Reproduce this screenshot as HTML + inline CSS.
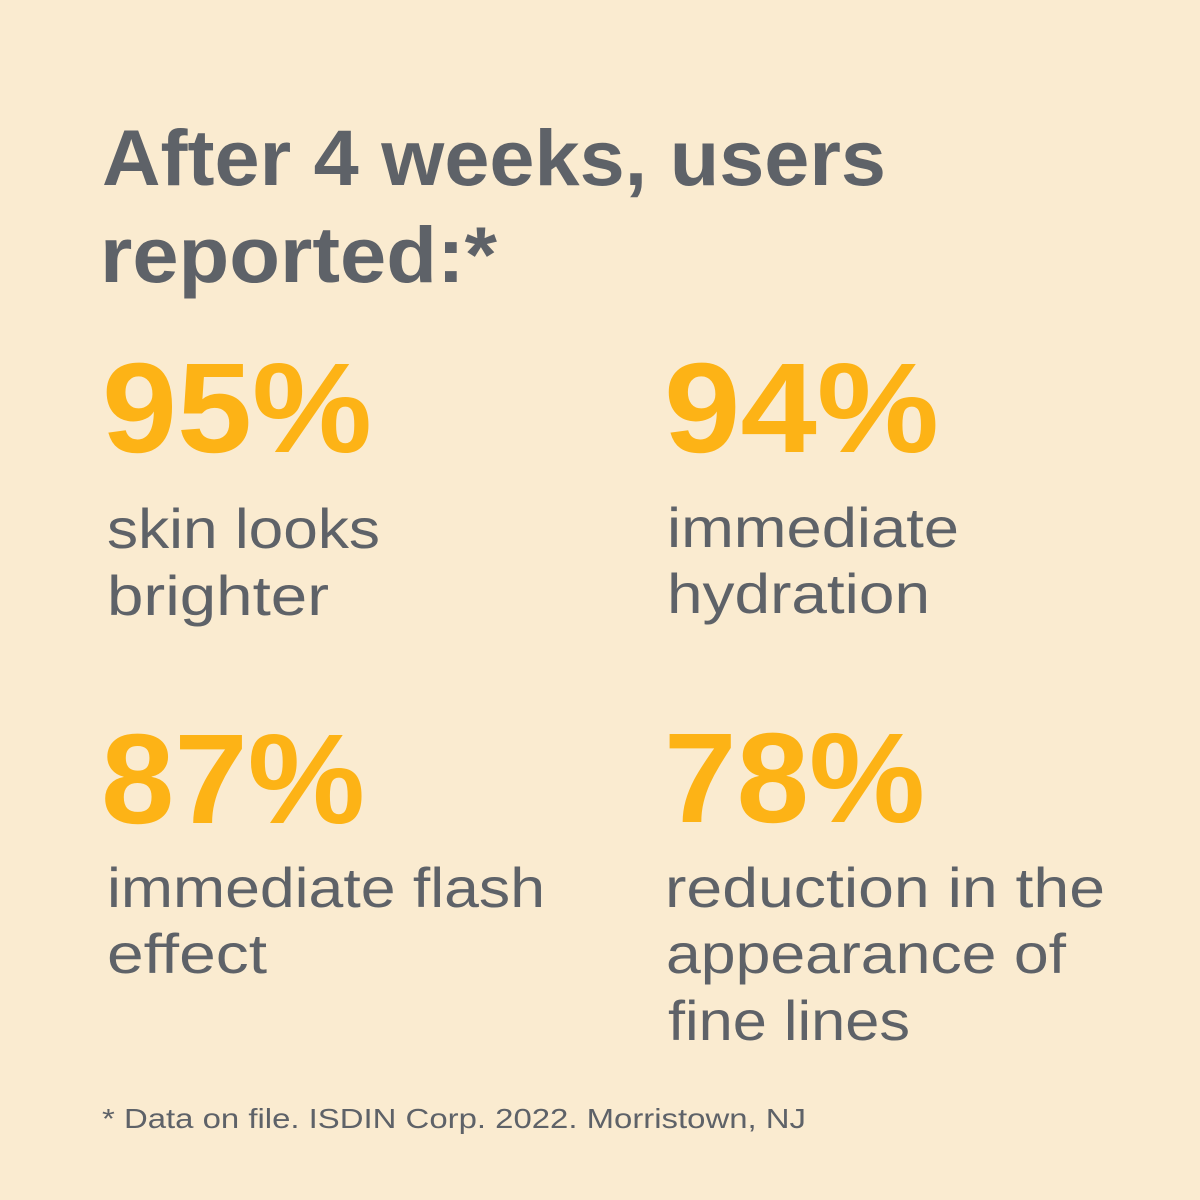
<!DOCTYPE html>
<html>
<head>
<meta charset="utf-8">
<style>
  html, body { margin:0; padding:0; background:#FAEBD0; }
  body { width:1200px; height:1200px; overflow:hidden; }
  svg { display:block; }
  .t { font-family:"Liberation Sans", sans-serif; font-weight:bold; fill:#5E6268; }
  .n { font-family:"Liberation Sans", sans-serif; font-weight:bold; fill:#FDB316; }
  .d { font-family:"Liberation Sans", sans-serif; font-weight:normal; fill:#5E6268; }
</style>
</head>
<body>
<svg width="1200" height="1200" viewBox="0 0 1200 1200" xmlns="http://www.w3.org/2000/svg">
  <rect x="0" y="0" width="1200" height="1200" fill="#FAEBD0"/>

  <text class="t" x="102" y="185" font-size="79" textLength="784" lengthAdjust="spacingAndGlyphs">After 4 weeks, users</text>
  <text class="t" x="100" y="282" font-size="79" textLength="397" lengthAdjust="spacingAndGlyphs">reported:*</text>

  <text class="n" x="102" y="452" font-size="128" textLength="270" lengthAdjust="spacingAndGlyphs">95%</text>
  <text class="n" x="664" y="452" font-size="128" textLength="275" lengthAdjust="spacingAndGlyphs">94%</text>
  <text class="n" x="101" y="823" font-size="128" textLength="264" lengthAdjust="spacingAndGlyphs">87%</text>
  <text class="n" x="664" y="822" font-size="128" textLength="261" lengthAdjust="spacingAndGlyphs">78%</text>

  <text class="d" x="107" y="548" font-size="56" textLength="273" lengthAdjust="spacingAndGlyphs">skin looks</text>
  <text class="d" x="107" y="615" font-size="56" textLength="222" lengthAdjust="spacingAndGlyphs">brighter</text>

  <text class="d" x="667" y="547" font-size="56" textLength="292" lengthAdjust="spacingAndGlyphs">immediate</text>
  <text class="d" x="667" y="613" font-size="56" textLength="263" lengthAdjust="spacingAndGlyphs">hydration</text>

  <text class="d" x="107" y="907" font-size="56" textLength="438" lengthAdjust="spacingAndGlyphs">immediate flash</text>
  <text class="d" x="107" y="973" font-size="56" textLength="160" lengthAdjust="spacingAndGlyphs">effect</text>

  <text class="d" x="665" y="907" font-size="56" textLength="440" lengthAdjust="spacingAndGlyphs">reduction in the</text>
  <text class="d" x="666" y="973" font-size="56" textLength="400" lengthAdjust="spacingAndGlyphs">appearance of</text>
  <text class="d" x="668" y="1040" font-size="56" textLength="242" lengthAdjust="spacingAndGlyphs">fine lines</text>

  <text class="d" x="102" y="1128" font-size="27.5" textLength="704" lengthAdjust="spacingAndGlyphs">* Data on file. ISDIN Corp. 2022. Morristown, NJ</text>
</svg>
</body>
</html>
